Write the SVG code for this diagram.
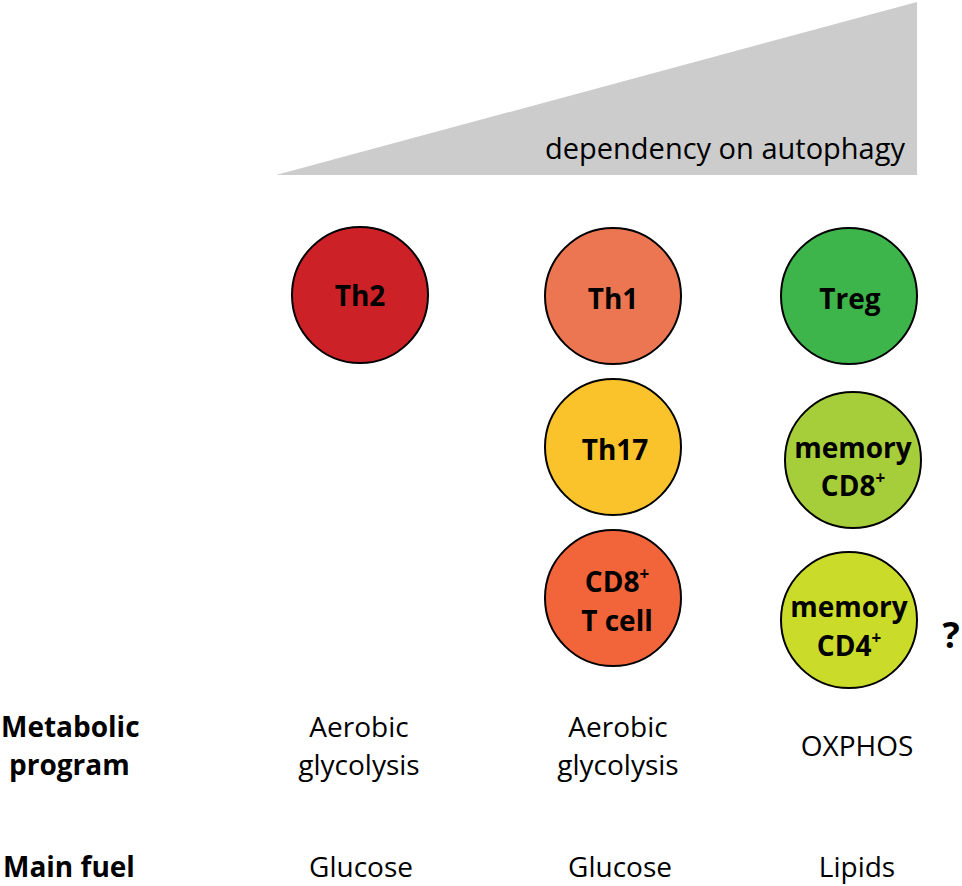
<svg xmlns="http://www.w3.org/2000/svg" width="962" height="886" viewBox="0 0 962 886">
<style>
.cell{stroke:#000;stroke-width:2}
.lbl{font-family:"Open Sans","Liberation Sans",sans-serif;font-weight:bold;font-size:28px;fill:#000;text-anchor:middle}
.sup{font-size:17px}
.txt{font-family:"Open Sans","Liberation Sans",sans-serif;font-size:28px;fill:#000;text-anchor:middle}
.hdr{font-family:"Open Sans","Liberation Sans",sans-serif;font-weight:bold;font-size:28px;fill:#000}
</style>
<rect width="962" height="886" fill="#fff"/>
<g id="gradient">
<polygon points="276,175 917,2 917,175" fill="#cccccc"/>
<text x="905" y="159" font-family="Open Sans, Liberation Sans, sans-serif" font-size="29" text-anchor="end" fill="#000" textLength="360" lengthAdjust="spacingAndGlyphs">dependency on autophagy</text>
</g>
<g id="connectors"></g>
<g id="th2"><circle class="cell" cx="360" cy="295" r="68" fill="#cd2128"/><text class="lbl" x="360" y="306">Th2</text></g>
<g id="th1"><circle class="cell" cx="613" cy="296" r="68" fill="#ec7651"/><text class="lbl" x="613" y="309">Th1</text></g>
<g id="treg"><circle class="cell" cx="849" cy="296" r="68" fill="#3db54a"/><text class="lbl" x="850" y="309">Treg</text></g>
<g id="th17"><circle class="cell" cx="613" cy="447" r="68" fill="#fbc32b"/><text class="lbl" x="615" y="460">Th17</text></g>
<g id="memcd8"><circle class="cell" cx="853" cy="460" r="68" fill="#a6ce3a"/><text class="lbl" x="853" y="458">memory</text><text class="lbl" x="853" y="496">CD8<tspan class="sup" dy="-12">+</tspan></text></g>
<g id="cd8t"><circle class="cell" cx="613" cy="598" r="68" fill="#f2653a"/><text class="lbl" x="617" y="592">CD8<tspan class="sup" dy="-12">+</tspan></text><text class="lbl" x="617" y="631">T cell</text></g>
<g id="memcd4"><circle class="cell" cx="849" cy="620" r="68" fill="#cbdb2a"/><text class="lbl" x="849" y="617">memory</text><text class="lbl" x="849" y="656">CD4<tspan class="sup" dy="-12">+</tspan></text></g>
<text class="lbl" x="951" y="648" style="font-size:36px">?</text>
<g id="labels">
<text class="hdr" x="1" y="737">Metabolic</text>
<text class="hdr" x="9" y="775">program</text>
<text class="hdr" x="3" y="877">Main fuel</text>
<text class="txt" x="359" y="737">Aerobic</text>
<text class="txt" x="359" y="775">glycolysis</text>
<text class="txt" x="618" y="737">Aerobic</text>
<text class="txt" x="618" y="775">glycolysis</text>
<text class="txt" x="857" y="756">OXPHOS</text>
<text class="txt" x="361" y="877">Glucose</text>
<text class="txt" x="620" y="877">Glucose</text>
<text class="txt" x="857" y="877">Lipids</text>
</g>
</svg>
